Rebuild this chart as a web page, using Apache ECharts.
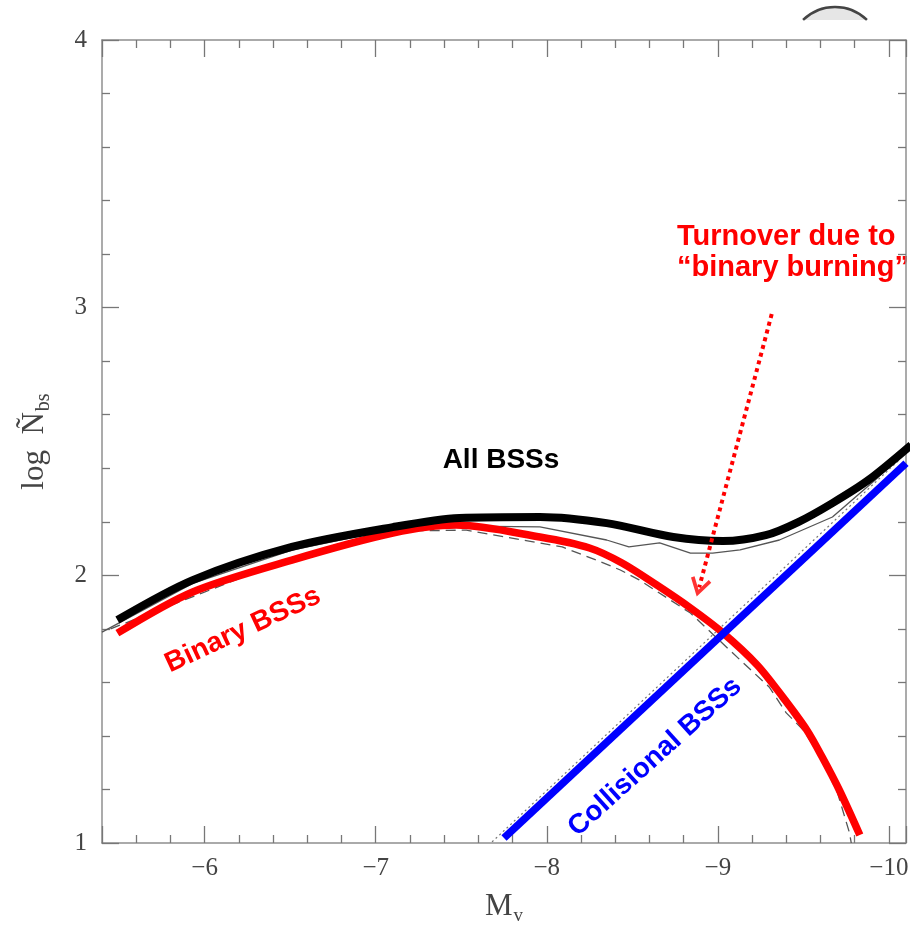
<!DOCTYPE html>
<html><head><meta charset="utf-8">
<script src="https://cdn.jsdelivr.net/npm/echarts@6/dist/echarts.min.js"></script>
<style>html,body{margin:0;padding:0;background:#fff}#c{width:916px;height:933px}</style>
</head><body><div id="c"></div>
<script>
// x: M_V, y: log N_bs
const allBSS = [[-5.49,1.833],[-5.93,1.982],[-6.51,2.106],[-7.10,2.180],[-7.49,2.214],[-7.96,2.218],[-8.35,2.195],[-8.74,2.143],[-9.03,2.128],[-9.28,2.150],[-9.47,2.199],[-9.67,2.270],[-9.88,2.356],[-10.13,2.487]];
const binaryBSS = [[-5.49,1.784],[-5.93,1.938],[-6.51,2.057],[-7.10,2.158],[-7.47,2.188],[-7.96,2.143],[-8.25,2.102],[-8.44,2.046],[-8.64,1.965],[-8.84,1.878],[-9.03,1.785],[-9.23,1.665],[-9.38,1.545],[-9.52,1.422],[-9.61,1.321],[-9.71,1.198],[-9.83,1.030]];
const collisionalBSS = [[-7.75,1.019],[-10.10,2.419]];
const modelTotal = [[-5.40,1.788],[-5.93,1.970],[-6.51,2.094],[-7.10,2.173],[-7.53,2.184],[-7.96,2.181],[-8.35,2.132],[-8.48,2.106],[-8.66,2.121],[-8.84,2.083],[-8.97,2.083],[-9.13,2.095],[-9.36,2.132],[-9.67,2.218],[-9.92,2.356],[-10.10,2.468]];
const modelBinary = [[-5.45,1.80],[-6.51,2.065],[-7.10,2.165],[-7.53,2.169],[-8.09,2.106],[-8.29,2.057],[-8.43,2.020],[-8.54,1.983],[-8.84,1.859],[-9.13,1.684],[-9.30,1.583],[-9.40,1.486],[-9.50,1.422],[-9.60,1.321],[-9.70,1.187],[-9.77,1.037],[-9.78,1.0]];
const modelCollisional = [[-7.68,1.004],[-10.06,2.431]];
const arrowFrom = [-9.315,2.976];
const arrowTo = [-8.891,1.955];
const xRange = [-10.1,-5.4];
const yRange = [1,4];

const fmt = v => String(v).replace('-', '\u2212');
const tickCol = '#777';
const axisCommon = {
  axisLine:{show:true,lineStyle:{color:'#8f8f8f',width:1.5}},
  axisTick:{show:true,inside:true,length:17,lineStyle:{color:tickCol,width:1.3}},
  minorTick:{show:true,splitNumber:5,length:8,lineStyle:{color:tickCol,width:1.3}},
  splitLine:{show:false},minorSplitLine:{show:false}
};
const serif = '"Liberation Serif", serif';
const labelStyle = {fontFamily:serif,fontSize:25,color:'#444'};
const sans = 'bold 28px "Liberation Sans", Arial, sans-serif';
const sans29 = 'bold 29px "Liberation Sans", Arial, sans-serif';

const chart = echarts.init(document.getElementById('c'));
chart.setOption({
  animation:false,
  backgroundColor:'#fff',
  grid:{left:102,right:10,top:40,bottom:90},
  xAxis:[
    Object.assign({type:'value',min:xRange[0],max:xRange[1],inverse:true,position:'bottom',splitNumber:5,
      axisLabel:Object.assign({margin:13,showMinLabel:false,showMaxLabel:false,formatter:fmt},labelStyle),
      name:'{a|M}{b|v}',nameLocation:'middle',nameGap:44,
      nameTextStyle:{rich:{a:{fontFamily:serif,fontSize:31,color:'#444'},
        b:{fontFamily:serif,fontSize:19,color:'#444',padding:[20,0,0,1]}}}
    },axisCommon),
    Object.assign({type:'value',min:xRange[0],max:xRange[1],inverse:true,position:'top',splitNumber:5,
      axisLabel:{show:false}},axisCommon)
  ],
  yAxis:[
    Object.assign({type:'value',min:yRange[0],max:yRange[1],interval:1,position:'left',
      axisLabel:Object.assign({margin:15},labelStyle),
      name:'{a|log  \u00D1}{b|bs}',nameLocation:'middle',nameGap:48,nameRotate:90,
      nameTextStyle:{rich:{a:{fontFamily:serif,fontSize:31,color:'#444'},
        b:{fontFamily:serif,fontSize:20,color:'#444',padding:[18,0,0,1]}}}
    },axisCommon),
    Object.assign({type:'value',min:yRange[0],max:yRange[1],interval:1,position:'right',
      axisLabel:{show:false}},axisCommon)
  ],
  series:[
    {type:'line',data:modelCollisional,symbol:'none',clip:false,z:2,
      lineStyle:{color:'#777',width:1.2,type:[2,3]}},
    {type:'line',data:modelTotal,symbol:'none',clip:false,z:2,
      lineStyle:{color:'#555',width:1.3}},
    {type:'line',data:modelBinary,symbol:'none',clip:false,z:2,
      lineStyle:{color:'#555',width:1.3,type:[10,6]}},
    {type:'line',data:binaryBSS,symbol:'none',clip:false,smooth:0.3,z:3,
      lineStyle:{color:'#ff0000',width:7.5}},
    {type:'line',data:collisionalBSS,symbol:'none',clip:false,z:4,
      lineStyle:{color:'#0000ff',width:7.5}},
    {type:'line',data:allBSS,symbol:'none',clip:false,smooth:0.3,z:5,
      lineStyle:{color:'#000',width:8}},
    {type:'line',data:[arrowFrom,arrowTo],symbol:'none',clip:false,z:6,
      lineStyle:{color:'#ff0000',width:4,type:[4,4]}},
    {type:'scatter',data:[arrowTo],clip:false,z:7,
      symbol:'path://M10,0 L20,17 L17,19 L10,7 L3,19 L0,17 Z',
      symbolSize:[21,20],symbolRotate:165,symbolKeepAspect:true,
      itemStyle:{color:'#ff0000'},silent:true}
  ],
  graphic:[
    {type:'text',x:501,y:460,style:{text:'All BSSs',font:sans,fill:'#000',align:'center',verticalAlign:'middle',textAlign:'center',textVerticalAlign:'middle'}},
    {type:'text',x:243,y:630,rotation:25*Math.PI/180,style:{text:'Binary BSSs',font:sans,fill:'#ff0000',align:'center',verticalAlign:'middle',textAlign:'center',textVerticalAlign:'middle'}},
    {type:'text',x:655,y:757,rotation:42*Math.PI/180,style:{text:'Collisional BSSs',font:sans,fill:'#0000ff',align:'center',verticalAlign:'middle',textAlign:'center',textVerticalAlign:'middle'}},
    {type:'text',x:677,y:237,style:{text:'Turnover due to',font:sans29,fill:'#ff0000',align:'left',verticalAlign:'middle',textAlign:'left',textVerticalAlign:'middle'}},
    {type:'text',x:677,y:268,style:{text:'\u201Cbinary burning\u201D',font:sans29,fill:'#ff0000',align:'left',verticalAlign:'middle',textAlign:'left',textVerticalAlign:'middle'}},
    {type:'sector',shape:{cx:835,cy:53,r:45,r0:33,startAngle:-132*Math.PI/180,endAngle:-48*Math.PI/180},style:{fill:'#e6e6e6'}},
    {type:'rect',shape:{x:790,y:20,width:90,height:40},style:{fill:'#fff'}},
    {type:'arc',shape:{cx:835,cy:53,r:46,startAngle:-134*Math.PI/180,endAngle:-46*Math.PI/180},style:{stroke:'#444',lineWidth:2.5,fill:null}}
  ]
});
</script>
</body></html>
